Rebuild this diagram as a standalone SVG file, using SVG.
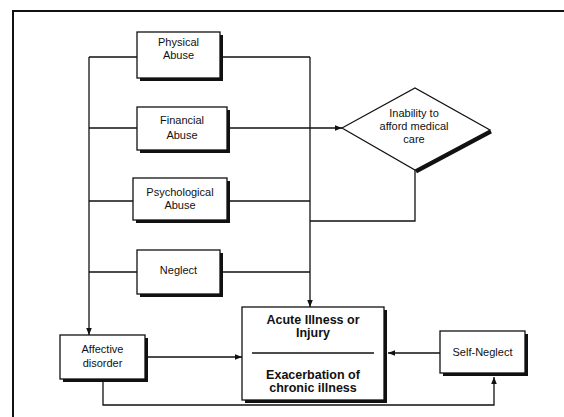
<svg xmlns="http://www.w3.org/2000/svg" width="564" height="417" viewBox="0 0 564 417">
<defs>
<style>
.box{fill:#fff;stroke:#111;stroke-width:1.3}
.sh{fill:#111}
.ln{fill:none;stroke:#111;stroke-width:1.3}
.t{font-family:"Liberation Sans",Arial,sans-serif;font-size:11px;fill:#111;text-anchor:middle}
.b{font-family:"Liberation Sans",Arial,sans-serif;font-size:12.5px;font-weight:bold;fill:#111;text-anchor:middle}
</style>
<marker id="ah" viewBox="0 0 10 10" refX="10" refY="5" markerWidth="9" markerHeight="7" markerUnits="userSpaceOnUse" orient="auto">
<path d="M0,1 L10,5 L0,9 z" fill="#111"/>
</marker>
</defs>
<rect width="564" height="417" fill="#fff"/>
<g id="frame">
<path d="M13,417 L13,11 L564,11" fill="none" stroke="#111" stroke-width="2"/>
</g>
<g id="connectors">
<path class="ln" d="M89,57 L89,335" marker-end="url(#ah)"/>
<path class="ln" d="M89,57 L137,57 M89,128 L137,128 M89,201 L133,201 M89,272 L137,272"/>
<path class="ln" d="M220,57 L310,57 M227,201 L310,201 M220,272 L310,272"/>
<path class="ln" d="M310,57 L310,307" marker-end="url(#ah)"/>
<path class="ln" d="M227,128 L342,128" marker-end="url(#ah)"/>
<path class="ln" d="M415,170 L415,221 L310,221"/>
<path class="ln" d="M148,357 L242,357" marker-end="url(#ah)"/>
<path class="ln" d="M440,353 L388,353" marker-end="url(#ah)"/>
<path class="ln" d="M103,382 L103,405 L494,405 L494,377" marker-end="url(#ah)"/>
</g>
<g id="physical">
<rect class="sh" x="140" y="35" width="83" height="46"/>
<rect class="box" x="137" y="32" width="83" height="46"/>
<text class="t" x="178.5" y="46">Physical</text>
<text class="t" x="178.5" y="59">Abuse</text>
</g>
<g id="financial">
<rect class="sh" x="140" y="110" width="90" height="43"/>
<rect class="box" x="137" y="107" width="90" height="43"/>
<text class="t" x="182" y="124">Financial</text>
<text class="t" x="182" y="139">Abuse</text>
</g>
<g id="psychological">
<rect class="sh" x="136" y="181" width="94" height="42"/>
<rect class="box" x="133" y="178" width="94" height="42"/>
<text class="t" x="180" y="196">Psychological</text>
<text class="t" x="180" y="209">Abuse</text>
</g>
<g id="neglect">
<rect class="sh" x="140" y="253" width="83" height="44"/>
<rect class="box" x="137" y="250" width="83" height="44"/>
<text class="t" x="178.5" y="274">Neglect</text>
</g>
<g id="affective">
<rect class="sh" x="63" y="338" width="85" height="44"/>
<rect class="box" x="60" y="335" width="85" height="44"/>
<text class="t" x="102.5" y="353">Affective</text>
<text class="t" x="102.5" y="367">disorder</text>
</g>
<g id="inability">
<path d="M490,130 L415,170" fill="none" stroke="#111" stroke-width="4" transform="translate(1,1.5)"/>
<path d="M342,128 L415,88 L490,130 L415,170 z" fill="#fff" stroke="#111" stroke-width="1.2"/>
<text class="t" x="414" y="117" font-size="10.5">Inability to</text>
<text class="t" x="414" y="130" font-size="10.5">afford medical</text>
<text class="t" x="414" y="143" font-size="10.5">care</text>
</g>
<g id="acute">
<rect class="sh" x="245" y="310" width="142" height="93"/>
<rect class="box" x="242" y="307" width="142" height="93"/>
<text class="b" x="313" y="324">Acute Illness or</text>
<text class="b" x="313" y="337">Injury</text>
<line x1="252" y1="353" x2="374" y2="353" stroke="#111" stroke-width="1.3"/>
<text class="b" x="313" y="379">Exacerbation of</text>
<text class="b" x="313" y="392">chronic illness</text>
</g>
<g id="selfneglect">
<rect class="sh" x="443" y="334" width="85" height="42"/>
<rect class="box" x="440" y="331" width="85" height="42"/>
<text class="t" x="482.5" y="356">Self-Neglect</text>
</g>
</svg>
